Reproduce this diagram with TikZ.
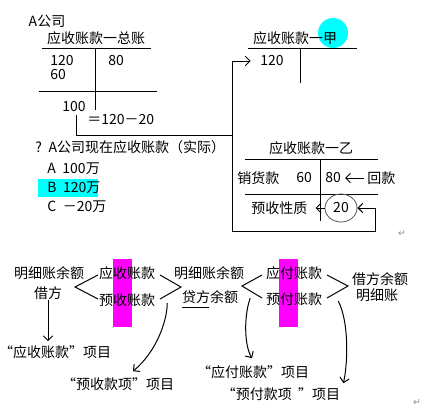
\documentclass[tikz,border=0pt]{standalone}
\usepackage{fontspec}
\setmainfont{Noto Sans CJK SC}
\newfontfamily\markfont{DejaVu Sans}
\usepackage{tikz}
\usetikzlibrary{positioning,arrows.meta,shapes.geometric}
\usepackage{xcolor}
\definecolor{hicyan}{HTML}{00FFFF}
\definecolor{himag}{HTML}{FF00FF}
\definecolor{markgray}{HTML}{8A8A8A}
\definecolor{ringgray}{HTML}{555555}

\begin{document}
\begin{tikzpicture}[x=0.75pt,y=-0.75pt,
  every node/.style={font=\fontsize{10.5}{12}\selectfont, inner sep=0pt},
  ledger/.style={line width=0.75pt},
  link/.style={line width=0.75pt, -{Straight Barb[length=3.5pt,width=7pt]}},
  numcell/.style={anchor=west},
  retmark/.style={text=markgray, font=\fontsize{7}{7}\selectfont\markfont}
]
  \useasboundingbox (0,0) rectangle (446,408);

  % Markierungen
  \fill[hicyan] (38,179) rectangle (98,197);
  \fill[hicyan] (333,33) circle [radius=11.25pt];
  \fill[himag] (113,259) rectangle (132,327);
  \fill[himag] (279,259) rectangle (298,327);

  % Konto gesamt
  \node (acomp) at (47,21) {A公司};
  \node (zongzhang) at (96,38) {应收账款一总账};
  \draw[ledger] (42,48) -- (151,48);
  \draw[ledger] (95,48) -- (95,110);
  \draw[ledger] (39,91) -- (157,91);
  \node[numcell] (z120) at (50,61) {120};
  \node[numcell] (z60) at (50,75) {60};
  \node[numcell] (z80) at (108,61) {80};
  \node[numcell] (z100) at (62,107) {100};
  \node[numcell] (zcalc) at (87,120) {＝120－20};

  % Frage
  \node[numcell] (quest) at (35,147) {?\hspace{5pt}A公司现在应收账款（实际）};
  \node[numcell] (optA) at (47,169) {A\hspace{5pt}100万};
  \node[numcell] (optB) at (47,188) {B\hspace{5pt}120万};
  \node[numcell] (optC) at (47,207) {C\hspace{5pt}－20万};

  % Konto Jia
  \node (jiatitle) at (295,38) {应收账款一甲};
  \draw[ledger] (248,48) -- (357,48);
  \draw[ledger] (300,48) -- (300,83);
  \node[numcell] (jia120) at (260,61) {120};

  % Konto Yi
  \node (yititle) at (311,148) {应收账款一乙};
  \draw[ledger] (245,159) -- (378,159);
  \draw[ledger] (320,159) -- (320,221);
  \draw[ledger] (245,194) -- (378,194);
  \node[numcell] (xiaohuo) at (237,178) {销货款};
  \node[numcell] (yi60) at (296,178) {60};
  \node[numcell] (yi80) at (325,178) {80};
  \node[numcell] (huikuan) at (367,178) {回款};
  \node[numcell] (yushou) at (251,208) {预收性质};
  \node[ellipse, draw=ringgray, line width=0.6pt, minimum width=24pt, minimum height=21pt] (yi20) at (341,208) {20};

  % Pfeile oben
  \coordinate (fork) at (232,135);
  \draw[ledger] ([xshift=2pt,yshift=-2pt]z100.south) |- (fork);
  \draw[link] (fork) |- ([xshift=-7pt]jia120.west);
  \draw[link] (fork) |- (375,231) |- (yi20.east);
  \draw[link] ([xshift=-2pt]huikuan.west) -- ([xshift=3pt]yi80.east);
  \draw[link] (yi20.west) -- ([xshift=6pt]yushou.east);

  % Unterer Teil
  \node (mx1) at (49,273) {明细账余额};
  \node (jf1) at (48,293) {借方};
  \node (ysz) at (127,273) {应收账款};
  \node (ysk) at (127,300) {预收账款};
  \node (mx2) at (209,273) {明细账余额};
  \node (df2) at (210,297) {贷方余额};
  \node (yfz) at (294,273) {应付账款};
  \node (yfk) at (294,299) {预付账款};
  \node (jf3) at (380,279) {借方余额};
  \node (mx3) at (377,295) {明细账};
  \draw[ledger] ([yshift=-2.5pt]df2.south west) -- ++(27,0);

  % Klammern
  \draw[ledger] (98,275) -- (75,287) -- (98,299);
  \draw[ledger] (160,275) -- (181,287) -- (160,299);
  \draw[ledger] (262,275) -- (242,286) -- (262,298);
  \draw[ledger] (327,275) -- (348,286) -- (327,298);

  % Posten
  \node (xm1) at (55,352) {“应收账款”项目};
  \node (xm2) at (118,384) {“预收款项”项目};
  \node (xm3) at (253,372) {“应付账款”项目};
  \node (xm4) at (281,394) {“预付款项~~”项目};

  \draw[link] (jf1.south) -- ([yshift=3pt]jf1.south |- xm1.north);
  \draw[link] ([shift={(12,3)}]ysk.east) .. controls (167,322) and (156,352) .. ([shift={(15,-6)}]xm2.north);
  \draw[link] ([shift={(12,1)}]df2.east) .. controls (244,315) and (244,345) .. ([shift={(-1,-7)}]xm3.north);
  \draw[link] ([shift={(16,2)}]yfk.east) .. controls (349,322) and (348,362) .. ([shift={(3,-4)}]xm4.north east);

  % Absatzzeichen
  \node[retmark] (ret1) at (402,234) {↵};
  \node[retmark] (ret2) at (417,403) {↵};
\end{tikzpicture}
\end{document}
